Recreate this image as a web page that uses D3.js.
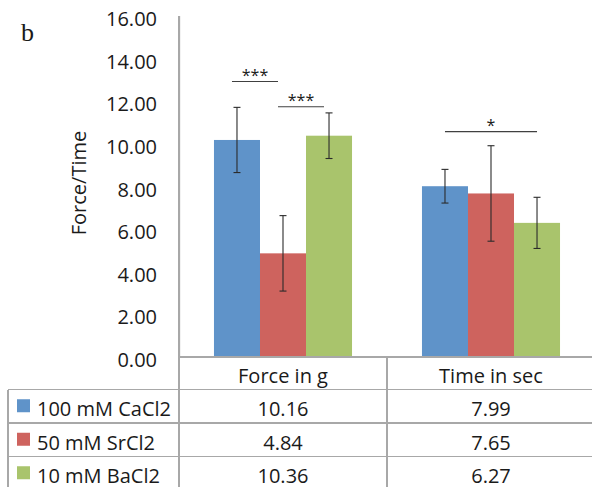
<!DOCTYPE html>
<html>
<head>
<meta charset="UTF-8">
<title>Force/Time</title>
<script src="https://cdn.jsdelivr.net/npm/d3@7"></script>
<style>
body { margin:0; background:#fff; }
#chart text { font-family:"Open Sans", sans-serif; fill:#1a1a1a; }
.grid line, .grid path { stroke:#a8a8a8; stroke-width:1.3; shape-rendering:crispEdges; }
.axis path { stroke:#a8a8a8; stroke-width:1.3; }
.axis text { font-size:20px; }
</style>
</head>
<body>
<div id="chart"></div>
<script>
// data
var categories = ["Force in g", "Time in sec"];
var seriesNames = ["100 mM CaCl2", "50 mM SrCl2", "10 mM BaCl2"];
var seriesColors = ["#5F93C9", "#CE635E", "#A9C46C"];
// means[series][category]
var means = [[10.16, 7.99], [4.84, 7.65], [10.36, 6.27]];
var errors = [[1.53, 0.79], [1.77, 2.24], [1.07, 1.20]];
var yTicks = [0, 2, 4, 6, 8, 10, 12, 14, 16];
// significance brackets: category, from series, to series, height, label
var sigCat = [0, 0, 1];
var sigFrom = [0, 1, 0];
var sigTo = [1, 2, 2];
var sigY = [12.9, 11.72, 10.55];
var sigLabel = ["***", "***", "*"];

// layout
var width = 592, height = 487;
var plotLeft = 179, plotTop = 15.5, zeroY = 356.5, plotRight = 595;
var tableLeft = 8, headerH = 32.5, rowH = 33.5;

var svg = d3.select("#chart").append("svg")
  .attr("width", width).attr("height", height);

svg.append("rect").attr("width", width).attr("height", height).attr("fill", "#fff");

var y = d3.scaleLinear().domain([0, 16]).range([zeroY, plotTop]);
var x = d3.scaleBand().domain(categories).range([plotLeft, plotRight]).padding(0);
var xs = d3.scaleBand().domain(d3.range(seriesNames.length))
  .range([0, x.bandwidth()]).paddingOuter(0.76).paddingInner(0);

// "b" panel letter
svg.append("text").text("b")
  .attr("x", 21).attr("y", 41)
  .style("font-family", "'Liberation Serif', serif")
  .style("font-size", "26px");

// y axis
var yAxis = d3.axisLeft(y).tickValues(yTicks).tickSize(0).tickPadding(22)
  .tickFormat(d3.format(".2f"));
var gy = svg.append("g").attr("class", "axis")
  .attr("transform", "translate(" + plotLeft + ",0)")
  .call(yAxis);
gy.selectAll("text").attr("dy", null).attr("y", 10);

svg.append("text").text("Force/Time")
  .attr("transform", "translate(86,183) rotate(-90)")
  .attr("text-anchor", "middle")
  .style("font-size", "20px");

// bars
var barData = [];
seriesNames.forEach(function(s, i) {
  categories.forEach(function(c, j) {
    barData.push({ s: i, c: c, v: means[i][j], e: errors[i][j] });
  });
});

svg.selectAll("rect.bar").data(barData).enter().append("rect")
  .attr("class", "bar")
  .attr("x", function(d) { return x(d.c) + xs(d.s); })
  .attr("y", function(d) { return y(d.v); })
  .attr("width", xs.bandwidth())
  .attr("height", function(d) { return zeroY - y(d.v); })
  .attr("fill", function(d) { return seriesColors[d.s]; });

// error bars
var eb = svg.selectAll("g.err").data(barData).enter().append("g")
  .attr("class", "err")
  .attr("stroke", "#2b2b2b").attr("stroke-width", 1.1);
function cx(d) { return x(d.c) + xs(d.s) + xs.bandwidth() / 2; }
eb.append("line")
  .attr("x1", cx).attr("x2", cx)
  .attr("y1", function(d) { return y(d.v + d.e); })
  .attr("y2", function(d) { return y(d.v - d.e); });
eb.append("line")
  .attr("x1", function(d) { return cx(d) - 3.5; }).attr("x2", function(d) { return cx(d) + 3.5; })
  .attr("y1", function(d) { return y(d.v + d.e); }).attr("y2", function(d) { return y(d.v + d.e); });
eb.append("line")
  .attr("x1", function(d) { return cx(d) - 3.5; }).attr("x2", function(d) { return cx(d) + 3.5; })
  .attr("y1", function(d) { return y(d.v - d.e); }).attr("y2", function(d) { return y(d.v - d.e); });

// significance brackets
sigLabel.forEach(function(lab, k) {
  var c = categories[sigCat[k]];
  var shift = sigCat[k] === 0 ? -5 : 0;
  var x1 = x(c) + xs(sigFrom[k]) + xs.bandwidth() / 2 + shift;
  var x2 = x(c) + xs(sigTo[k]) + xs.bandwidth() / 2 + shift;
  svg.append("line")
    .attr("x1", x1).attr("x2", x2)
    .attr("y1", y(sigY[k])).attr("y2", y(sigY[k]))
    .attr("stroke", "#404040").attr("stroke-width", 1.1);
  svg.append("text").text(lab)
    .attr("x", (x1 + x2) / 2).attr("y", y(sigY[k]) - 0.5)
    .attr("text-anchor", "middle")
    .style("font-size", "16px");
});

// data table under the chart
var tableTop = zeroY + 0.5;
var rowTops = seriesNames.map(function(s, i) { return tableTop + headerH + i * rowH; });
var grid = svg.append("g").attr("class", "grid");

// x axis line / table top
grid.append("line").attr("x1", plotLeft).attr("x2", width).attr("y1", tableTop).attr("y2", tableTop);
// row lines
rowTops.concat([tableTop + headerH + seriesNames.length * rowH]).forEach(function(t) {
  grid.append("line").attr("x1", tableLeft).attr("x2", width).attr("y1", t).attr("y2", t);
});
// vertical lines
grid.append("line").attr("x1", tableLeft).attr("x2", tableLeft).attr("y1", rowTops[0]).attr("y2", height);
categories.forEach(function(c, j) {
  grid.append("line").attr("x1", x(c)).attr("x2", x(c)).attr("y1", tableTop).attr("y2", height);
});
grid.append("line").attr("x1", plotLeft).attr("x2", plotLeft).attr("y1", plotTop).attr("y2", tableTop);

// header
svg.selectAll("text.head").data(categories).enter().append("text")
  .attr("class", "head")
  .attr("x", function(d) { return x(d) + x.bandwidth() / 2; })
  .attr("y", tableTop + headerH / 2 + 10)
  .attr("text-anchor", "middle")
  .style("font-size", "20px")
  .text(function(d) { return d; });

// legend column
seriesNames.forEach(function(s, i) {
  var mid = rowTops[i] + rowH / 2;
  svg.append("rect")
    .attr("x", 17).attr("y", mid - 7)
    .attr("width", 13).attr("height", 13)
    .attr("fill", seriesColors[i]);
  svg.append("text").text(s)
    .attr("x", 37).attr("y", mid + 10)
    .style("font-size", "20px");
  categories.forEach(function(c, j) {
    svg.append("text").text(d3.format(".2f")(means[i][j]))
      .attr("x", x(c) + x.bandwidth() / 2).attr("y", mid + 10)
      .attr("text-anchor", "middle")
      .style("font-size", "20px");
  });
});
</script>
</body>
</html>
